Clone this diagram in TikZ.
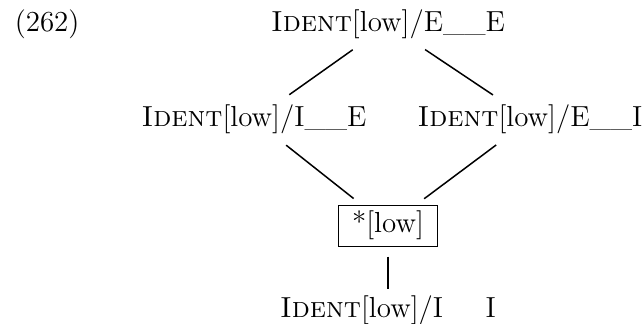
\documentclass[tikz,border=0pt]{standalone}
\usepackage{tikz}
\usepackage{xcolor}

\begin{document}
\begin{tikzpicture}[x=0.5pt,y=-0.5pt,line width=0.75pt,
  every node/.style={font=\fontsize{14.5}{17}\selectfont,inner sep=2pt},
  cand/.style={anchor=base},
  winner/.style={draw,line width=0.5pt,anchor=base,inner xsep=7pt,inner ysep=3pt},
  link/.style={shorten <=5pt,shorten >=5pt}]
  \useasboundingbox (0,0) rectangle (642,324);
  % example number
  \node[anchor=base west] (num) at (10,32) {(262)};
  % top
  \node[cand] (ee) at (388,32) {\textsc{Ident}[low]/E\_\_E};
  % middle row
  \node[cand] (ie) at (254,127) {\textsc{Ident}[low]/I\_\_E};
  \node[cand] (ei) at (530,127) {\textsc{Ident}[low]/E\_\_I};
  % boxed constraint
  \node[winner] (low) at (388,233) {*[low]};
  % bottom
  \node[cand] (ii) at (388,318) {\textsc{Ident}[low]/I\phantom{\_\_}I};
  % lines
  \draw[link] (ee) -- (ie);
  \draw[link] (ee) -- (ei);
  \draw[link] (ie) -- (low);
  \draw[link] (ei) -- (low);
  \draw[shorten <=5pt,shorten >=1pt] (low) -- (ii);
\end{tikzpicture}
\end{document}
